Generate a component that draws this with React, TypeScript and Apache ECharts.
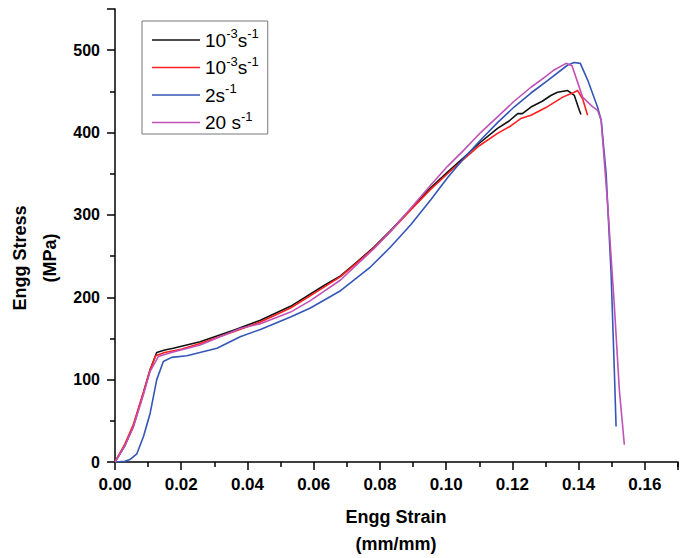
import React, { useEffect, useRef } from "react";
import * as echarts from "echarts";

// Engineering strain (mm/mm) vs engineering stress (MPa)
const black1: [number, number][] = [
  [0, 0], [0.003, 20], [0.0055, 43], [0.0086, 84], [0.0106, 112], [0.0126, 133],
  [0.015, 136], [0.0176, 138], [0.0257, 146], [0.0358, 160], [0.0439, 172],
  [0.053, 189], [0.063, 214], [0.0681, 226], [0.0731, 243], [0.0782, 261],
  [0.0832, 281], [0.0893, 307], [0.0953, 333], [0.1004, 352], [0.1054, 370],
  [0.11, 387], [0.1155, 405], [0.119, 414], [0.1216, 423], [0.123, 423],
  [0.1256, 431], [0.129, 438], [0.1316, 445], [0.1336, 449], [0.1367, 451],
  [0.1387, 445], [0.1402, 427], [0.1407, 422],
];
const red1: [number, number][] = [
  [0, 0], [0.003, 22], [0.0055, 45], [0.0086, 85], [0.0106, 112], [0.0123, 129],
  [0.015, 133], [0.02, 137], [0.0257, 144], [0.0358, 158], [0.0439, 170],
  [0.053, 187], [0.063, 212], [0.0681, 225], [0.0731, 242], [0.0782, 260],
  [0.0832, 280], [0.0893, 306], [0.0953, 331], [0.1004, 350], [0.1054, 368],
  [0.11, 384], [0.1155, 399], [0.1195, 408], [0.1225, 417], [0.1256, 421],
  [0.13, 430], [0.1352, 443], [0.1387, 449], [0.1397, 451], [0.1412, 441],
  [0.1427, 421],
];
const blue2: [number, number][] = [
  [0, 0], [0.003, 1], [0.0045, 3], [0.0066, 10], [0.0086, 31], [0.0106, 59],
  [0.0126, 100], [0.0146, 122], [0.0171, 127], [0.0217, 129], [0.0308, 138],
  [0.0378, 152], [0.0439, 161], [0.053, 176], [0.059, 187], [0.0681, 208],
  [0.0772, 237], [0.0832, 261], [0.0893, 288], [0.0953, 318], [0.1004, 345],
  [0.1054, 369], [0.1104, 391], [0.1155, 412], [0.1205, 431], [0.1256, 448],
  [0.1306, 463], [0.1367, 482], [0.1387, 485], [0.1405, 484], [0.1427, 464],
  [0.1457, 431], [0.1468, 415], [0.1483, 350], [0.1498, 229], [0.1508, 108],
  [0.1513, 43],
];
const magenta20: [number, number][] = [
  [0, 0], [0.003, 20], [0.0055, 42], [0.0086, 82], [0.0106, 110], [0.0131, 128],
  [0.017, 133], [0.0257, 142], [0.0378, 162], [0.0439, 168], [0.053, 182],
  [0.059, 196], [0.0681, 221], [0.0731, 240], [0.0782, 259], [0.0832, 280],
  [0.0893, 308], [0.0953, 336], [0.1004, 359], [0.1054, 379], [0.1104, 400],
  [0.1155, 419], [0.1205, 438], [0.1256, 455], [0.13, 468], [0.1326, 476],
  [0.1362, 484], [0.138, 481], [0.1412, 443], [0.144, 432], [0.1457, 427],
  [0.1468, 415], [0.1488, 310], [0.1508, 188], [0.1523, 87], [0.1538, 21],
];

const seriesNames = ["rate-a", "rate-b", "rate-c", "rate-d"];
const legendLabels = [
  "{n|10}{s|-3}{n|s}{s|-1}",
  "{n|10}{s|-3}{n|s}{s|-1}",
  "{n|2s}{s|-1}",
  "{n|20 s}{s|-1}",
];
const seriesColors = ["#111111", "#ff2020", "#3456b6", "#c052b6"];
const seriesData = [black1, red1, blue2, magenta20];

const xTicksMaxLabel = 0.16;
const yTicksMaxLabel = 500;

const FONT = "'Liberation Sans', Arial, sans-serif";

export default function App() {
  const ref = useRef<HTMLDivElement>(null);
  useEffect(() => {
    if (!ref.current) return;
    const chart = echarts.init(ref.current, undefined, { renderer: "svg" });
    const axisCommon = {
      axisLine: { show: true, onZero: false, lineStyle: { color: "#000", width: 1.5 } },
      axisTick: { show: true, inside: false, length: 8, lineStyle: { color: "#000", width: 1.5 } },
      minorTick: { show: true, splitNumber: 2, length: 5, lineStyle: { color: "#000", width: 1.5 } },
      splitLine: { show: false },
      minorSplitLine: { show: false },
    };
    chart.setOption({
      animation: false,
      backgroundColor: "#fff",
      textStyle: { fontFamily: FONT },
      grid: { left: 115, right: 6, top: 9, bottom: 96, containLabel: false },
      xAxis: {
        type: "value",
        min: 0,
        max: 0.17,
        interval: 0.02,
        ...axisCommon,
        axisLabel: {
          margin: 14,
          color: "#000",
          fontSize: 17,
          fontWeight: "bold",
          fontFamily: FONT,
          formatter: (v: number) => (v > xTicksMaxLabel + 1e-6 ? "" : v.toFixed(2)),
        },
      },
      yAxis: {
        type: "value",
        min: 0,
        max: 550,
        interval: 100,
        ...axisCommon,
        axisLabel: {
          margin: 15,
          color: "#000",
          fontSize: 16,
          fontWeight: "bold",
          fontFamily: FONT,
          formatter: (v: number) => (v > yTicksMaxLabel ? "" : String(v)),
        },
      },
      legend: {
        orient: "vertical",
        left: 142,
        top: 21,
        padding: [6, 9, 2, 10],
        itemGap: 5,
        itemWidth: 48,
        itemHeight: 14,
        icon: "path://M0 0H48V1.6H0Z",
        borderColor: "#777",
        borderWidth: 1,
        data: seriesNames,
        formatter: (name: string) => legendLabels[seriesNames.indexOf(name)],
        textStyle: {
          color: "#000",
          fontFamily: FONT,
          rich: {
            n: { fontSize: 19, lineHeight: 26, fontFamily: FONT, color: "#000" },
            s: { fontSize: 13, lineHeight: 13, verticalAlign: "top", fontFamily: FONT, color: "#000" },
          },
        },
      },
      series: seriesNames.map((name, i) => ({
        name,
        type: "line",
        data: seriesData[i],
        symbol: "none",
        showSymbol: false,
        smooth: false,
        lineStyle: { color: seriesColors[i], width: 1.6, join: "round" },
        itemStyle: { color: seriesColors[i] },
        z: 2 + i,
      })),
      graphic: [
        {
          type: "text",
          x: 396,
          y: 530,
          style: {
            text: "Engg Strain\n(mm/mm)",
            align: "center",
            verticalAlign: "middle",
            lineHeight: 27,
            fontSize: 18,
            fontWeight: "bold",
            fontFamily: FONT,
            fill: "#000",
          },
        },
        {
          type: "text",
          x: 35,
          y: 258,
          rotation: Math.PI / 2,
          style: {
            text: "Engg Stress\n(MPa)",
            align: "center",
            verticalAlign: "middle",
            lineHeight: 30,
            fontSize: 18,
            fontWeight: "bold",
            fontFamily: FONT,
            fill: "#000",
          },
        },
      ],
    });
    return () => chart.dispose();
  }, []);
  return (
    <div
      ref={ref}
      style={{ position: "fixed", left: 0, top: 0, width: 684, height: 558, background: "#fff" }}
    />
  );
}
